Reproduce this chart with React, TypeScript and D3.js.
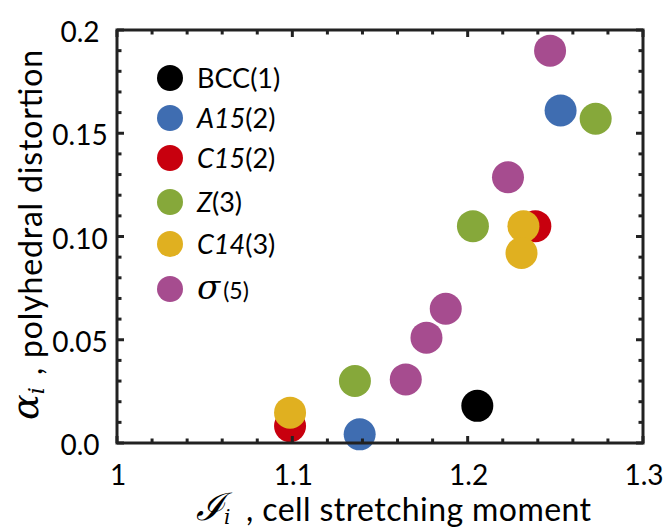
import React from 'react';
import * as d3 from 'd3';

// Structure types and their point colours
const groups = ['BCC', 'A15', 'C15', 'Z', 'C14', 'sigma'];
const groupColors = ['#000000', '#3f6db1', '#c8000e', '#86a83a', '#e0b020', '#a64c8f'];

// Points: stretching moment (x), polyhedral distortion (y)
const bccX = [1.2055];
const bccY = [0.018];
const a15X = [1.1384, 1.253];
const a15Y = [0.0042, 0.161];
const c15X = [1.0987, 1.2386];
const c15Y = [0.0082, 0.105];
const zX = [1.1357, 1.203, 1.273];
const zY = [0.030, 0.105, 0.157];
const c14X = [1.0987, 1.2318, 1.2307];
const c14Y = [0.0147, 0.105, 0.092];
const sigmaX = [1.1647, 1.1765, 1.1875, 1.223, 1.247];
const sigmaY = [0.0308, 0.051, 0.065, 0.1287, 0.190];

const xTickLabels = ['1', '1.1', '1.2', '1.3'];
const yTickLabels = ['0.0', '0.05', '0.10', '0.15', '0.2'];

const seriesX = [bccX, a15X, c15X, zX, c14X, sigmaX];
const seriesY = [bccY, a15Y, c15Y, zY, c14Y, sigmaY];

const W = 666, H = 532;
const M = { left: 117, top: 30, right: 643, bottom: 443 };
const font = 'Lato, "Open Sans", sans-serif';
const mathFont = '"DejaVu Serif", serif';

const App = () => {
  const x = d3.scaleLinear().domain([1, 1.3]).range([M.left, M.right]);
  const y = d3.scaleLinear().domain([0, 0.2]).range([M.bottom, M.top]);

  const xMinor = d3.range(0, 16).map(i => 1 + i * 0.02);
  const yMinor = d3.range(0, 21).map(i => i * 0.01);
  const xMajor = xTickLabels.map(Number);
  const yMajor = yTickLabels.map(Number);

  const axisColor = '#222';

  // legend rows
  const legendY = [78, 118, 158, 202, 244, 289];
  const legendLabels: React.ReactNode[] = [
    <tspan>BCC(1)</tspan>,
    <><tspan fontStyle="italic">A15</tspan><tspan>(2)</tspan></>,
    <><tspan fontStyle="italic">C15</tspan><tspan>(2)</tspan></>,
    <><tspan fontStyle="italic">Z</tspan><tspan>(3)</tspan></>,
    <><tspan fontStyle="italic">C14</tspan><tspan>(3)</tspan></>,
    <><tspan fontStyle="italic" fontFamily={mathFont} fontSize={34}>σ</tspan><tspan fontSize={23} dx={3}>(5)</tspan></>,
  ];

  return (
    <div style={{ position: 'absolute', left: 0, top: 0 }}>
      <svg width={W} height={H} style={{ display: 'block', background: '#fff' }}>
        {/* data points */}
        {seriesX.map((xs, gi) =>
          xs.map((xv, i) => (
            <circle key={`${gi}-${i}`} cx={x(xv)} cy={y(seriesY[gi][i])} r={16} fill={groupColors[gi]} />
          ))
        )}

        {/* ticks, all four sides, pointing inward */}
        {xMinor.map((t, i) => {
          const major = xMajor.some(m => Math.abs(m - t) < 1e-6);
          const len = major ? 7 : 4.5;
          return (
            <g key={`xt${i}`} stroke={axisColor} strokeWidth={3}>
              <line x1={x(t)} x2={x(t)} y1={M.bottom} y2={M.bottom - len} />
              <line x1={x(t)} x2={x(t)} y1={M.top} y2={M.top + len} />
            </g>
          );
        })}
        {yMinor.map((t, i) => {
          const major = yMajor.some(m => Math.abs(m - t) < 1e-6);
          const len = major ? 7 : 4.5;
          return (
            <g key={`yt${i}`} stroke={axisColor} strokeWidth={3}>
              <line x1={M.left} x2={M.left + len} y1={y(t)} y2={y(t)} />
              <line x1={M.right} x2={M.right - len} y1={y(t)} y2={y(t)} />
            </g>
          );
        })}

        {/* frame */}
        <rect x={M.left} y={M.top} width={M.right - M.left} height={M.bottom - M.top}
          fill="none" stroke={axisColor} strokeWidth={3} />

        {/* tick labels */}
        {xMajor.map((t, i) => (
          <text key={`xl${i}`} x={x(t) + 1} y={485} textAnchor="middle" fontFamily={font} fontSize={28} fill="#000">
            {xTickLabels[i]}
          </text>
        ))}
        {yMajor.map((t, i) => (
          <text key={`yl${i}`} x={80} y={y(t) + 12} textAnchor="middle" fontFamily={font} fontSize={28} fill="#000">
            {yTickLabels[i]}
          </text>
        ))}

        {/* legend */}
        {groups.map((g, i) => (
          <g key={g}>
            <circle cx={170} cy={legendY[i]} r={13} fill={groupColors[i]} />
            <text x={197} y={legendY[i] + 10} fontFamily={font} fontSize={27} fill="#000">
              {legendLabels[i]}
            </text>
          </g>
        ))}

        {/* x-axis title */}
        <text x={196} y={520} fontFamily={font} fontSize={32} fill="#000">
          <tspan fontFamily={mathFont} fontStyle="italic" fontSize={38}>ℐ</tspan>
          <tspan fontFamily={mathFont} fontStyle="italic" fontSize={20} dy={4}>i</tspan>
        </text>
        <text x={246} y={521} fontFamily={font} fontSize={32} fill="#000" textLength={345} lengthAdjust="spacing">
          , cell stretching moment
        </text>

        {/* y-axis title */}
        <text transform={`translate(38, 420) rotate(-90)`} fontFamily={font} fontSize={32} fill="#000">
          <tspan fontFamily={mathFont} fontStyle="italic" fontSize={38}>α</tspan>
          <tspan fontFamily={mathFont} fontStyle="italic" fontSize={22} dy={6}>i</tspan>
        </text>
        <text transform={`translate(42, 375) rotate(-90)`} fontFamily={font} fontSize={32} fill="#000"
          textLength={325} lengthAdjust="spacing">
          , polyhedral distortion
        </text>
      </svg>
    </div>
  );
};

export default App;
